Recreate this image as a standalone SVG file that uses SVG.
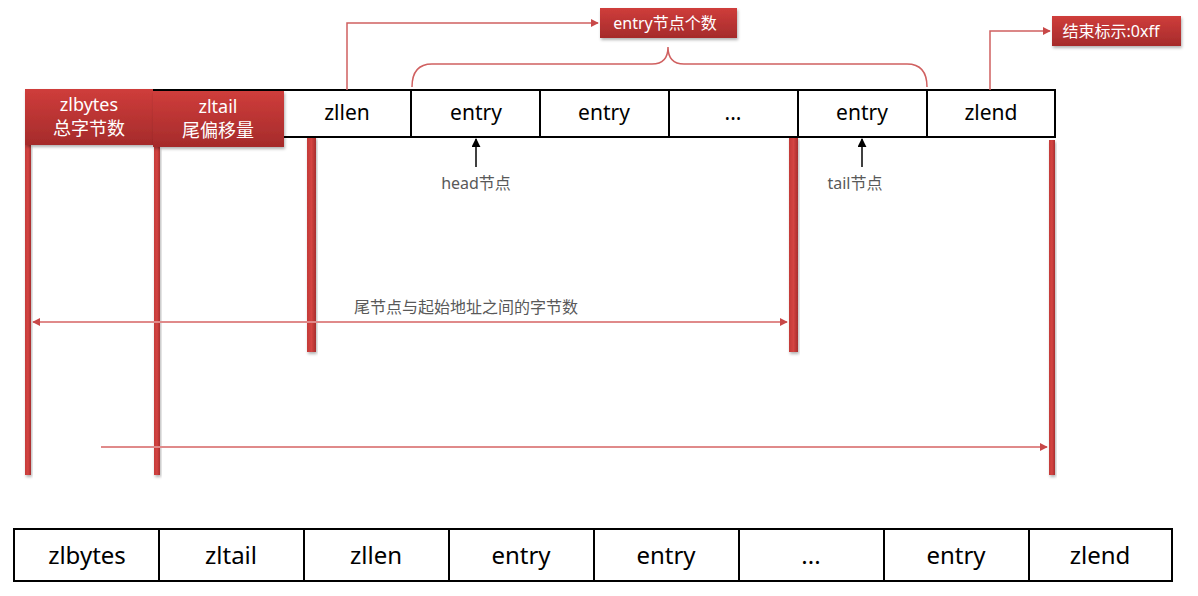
<svg xmlns="http://www.w3.org/2000/svg" width="1198" height="596" viewBox="0 0 1198 596">
<defs>
  <linearGradient id="redg" x1="0" y1="0" x2="0" y2="1">
    <stop offset="0" stop-color="#cf3d3b"/>
    <stop offset="1" stop-color="#a52b2b"/>
  </linearGradient>
  <linearGradient id="barg" x1="0" y1="0" x2="1" y2="0">
    <stop offset="0" stop-color="#c33a38"/>
    <stop offset="0.5" stop-color="#d44442"/>
    <stop offset="1" stop-color="#a72d2d"/>
  </linearGradient>
  <filter id="sh" x="-20%" y="-20%" width="140%" height="150%">
    <feDropShadow dx="1" dy="2" stdDeviation="1.5" flood-color="#000" flood-opacity="0.3"/>
  </filter>
  <marker id="ah" viewBox="0 0 10 10" refX="9" refY="5" markerWidth="8" markerHeight="8" markerUnits="userSpaceOnUse" orient="auto-start-reverse">
    <path d="M0,0 L10,5 L0,10 z" fill="#c84848"/>
  </marker>
  <marker id="ahk" viewBox="0 0 10 10" refX="9" refY="5" markerWidth="9" markerHeight="9" markerUnits="userSpaceOnUse" orient="auto">
    <path d="M0,0 L10,5 L0,10 z" fill="#000"/>
  </marker>
</defs>
<style>
  .cell { fill: #fff; stroke: #000; stroke-width: 2; }
  .t { font-family: "Noto Sans", "Noto Sans CJK SC", sans-serif; fill: #000; text-anchor: middle; }
  .w { font-family: "Noto Sans", "Noto Sans CJK SC", sans-serif; fill: #fff; text-anchor: middle; }
  .g { font-family: "Noto Sans", "Noto Sans CJK SC", sans-serif; fill: #595959; text-anchor: middle; font-size: 16px; }
  .rbox { fill: url(#redg); filter: url(#sh); }
  .bar { fill: url(#barg); filter: url(#sh); }
  .conn { fill: none; stroke: #d06060; stroke-width: 1.5; }
  .lconn { fill: none; stroke: #e08a8a; stroke-width: 2; }
</style>
<rect width="1198" height="596" fill="#fff"/>

<!-- vertical red bars -->
<g id="bars">
  <rect class="bar" x="25" y="145" width="6" height="330"/>
  <rect class="bar" x="154" y="147" width="6" height="328"/>
  <rect class="bar" x="307" y="137" width="9" height="215"/>
  <rect class="bar" x="789" y="137" width="9" height="215"/>
  <rect class="bar" x="1049" y="140" width="6" height="335"/>
</g>

<!-- top row -->
<g id="top-row">
  <rect class="cell" x="154" y="90" width="901" height="47"/>
  <g id="t-zllen"><rect class="cell" x="283" y="90" width="128" height="47"/><text class="t" x="347" y="120" font-size="21">zllen</text></g>
  <g id="t-entry1"><rect class="cell" x="411" y="90" width="129" height="47"/><text class="t" x="476" y="120" font-size="21">entry</text></g>
  <g id="t-entry2"><rect class="cell" x="540" y="90" width="129" height="47"/><text class="t" x="604" y="120" font-size="21">entry</text></g>
  <g id="t-dots"><rect class="cell" x="669" y="90" width="129" height="47"/><text class="t" x="733" y="120" font-size="21">...</text></g>
  <g id="t-entry3"><rect class="cell" x="798" y="90" width="129" height="47"/><text class="t" x="862" y="120" font-size="21">entry</text></g>
  <g id="t-zlend"><rect class="cell" x="927" y="90" width="128" height="47"/><text class="t" x="991" y="120" font-size="21">zlend</text></g>
</g>

<g id="zlbytes-box">
  <rect class="rbox" x="25" y="89" width="128" height="56"/>
  <text class="w" x="89" y="111" font-size="18">zlbytes</text>
  <text class="w" x="89" y="135" font-size="18">总字节数</text>
</g>
<g id="zltail-box">
  <rect class="rbox" x="153" y="91" width="131" height="56"/>
  <text class="w" x="218" y="113" font-size="18">zltail</text>
  <text class="w" x="218" y="137" font-size="18">尾偏移量</text>
</g>

<g id="entry-count">
  <rect class="rbox" x="600" y="8" width="137" height="30"/>
  <text class="w" x="665" y="29" font-size="16">entry节点个数</text>
</g>
<g id="end-flag">
  <rect class="rbox" x="1052" y="16" width="129" height="30"/>
  <text class="w" x="1111" y="37" font-size="16">结束标示:0xff</text>
</g>

<!-- connectors -->
<g id="connectors">
  <path class="conn" d="M347,90 V23 H598" marker-end="url(#ah)"/>
  <path class="conn" d="M990,90 V31 H1050" marker-end="url(#ah)"/>
  <path class="conn" d="M412,87 Q412,64 432,64 H652 Q668,64 668,47 Q668,64 684,64 H907 Q927,64 927,87"/>
  <path d="M476,167 V139" stroke="#000" stroke-width="1.5" fill="none" marker-end="url(#ahk)"/>
  <path d="M862,167 V139" stroke="#000" stroke-width="1.5" fill="none" marker-end="url(#ahk)"/>
  <path class="lconn" d="M33,322 H787" marker-start="url(#ah)" marker-end="url(#ah)"/>
  <path class="lconn" d="M101,447 H1047" marker-end="url(#ah)"/>
</g>

<g id="labels">
  <text class="g" x="476" y="189">head节点</text>
  <text class="g" x="855" y="189">tail节点</text>
  <text class="g" x="466" y="313">尾节点与起始地址之间的字节数</text>
</g>

<!-- bottom row -->
<g id="bottom-row">
  <g id="b-zlbytes"><rect class="cell" x="14" y="529" width="145" height="52"/><text class="t" x="87" y="564" font-size="24">zlbytes</text></g>
  <g id="b-zltail"><rect class="cell" x="159" y="529" width="145" height="52"/><text class="t" x="231" y="564" font-size="24">zltail</text></g>
  <g id="b-zllen"><rect class="cell" x="304" y="529" width="145" height="52"/><text class="t" x="376" y="564" font-size="24">zllen</text></g>
  <g id="b-entry1"><rect class="cell" x="449" y="529" width="145" height="52"/><text class="t" x="521" y="564" font-size="24">entry</text></g>
  <g id="b-entry2"><rect class="cell" x="594" y="529" width="145" height="52"/><text class="t" x="666" y="564" font-size="24">entry</text></g>
  <g id="b-dots"><rect class="cell" x="739" y="529" width="145" height="52"/><text class="t" x="811" y="564" font-size="24">...</text></g>
  <g id="b-entry3"><rect class="cell" x="884" y="529" width="145" height="52"/><text class="t" x="956" y="564" font-size="24">entry</text></g>
  <g id="b-zlend"><rect class="cell" x="1029" y="529" width="143" height="52"/><text class="t" x="1100" y="564" font-size="24">zlend</text></g>
</g>
</svg>
